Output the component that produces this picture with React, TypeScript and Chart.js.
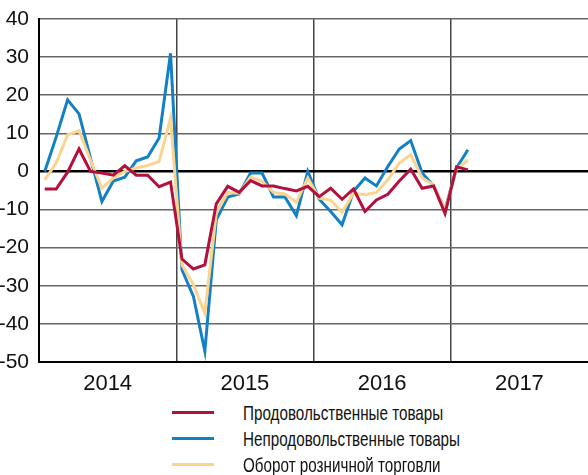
import React, { useEffect, useRef } from "react";
import { Chart, registerables } from "chart.js";

Chart.register(...registerables);

const years = ["2014", "2015", "2016", "2017"];
const seriesNames = [
  "Продовольственные товары",
  "Непродовольственные товары",
  "Оборот розничной торговли",
];
// monthly values, Jan 2014 onward
const food = [
  -4.6, -4.6, -0.2, 5.9, 0, -0.4, -1, 1.5, -1, -1, -4, -2.8,
  -23, -25.6, -24.5, -8.5, -3.9, -5.5, -2.4, -3.8, -3.8, -4.5, -5.1, -3.9,
  -6.6, -4.4, -7.3, -4.6, -10.5, -7.5, -6, -2.5, 0.6, -4.4, -3.8, -11, 1.2, 0.4,
];
const nonFood = [
  0, 9, 18.8, 15.1, 3.5, -7.9, -2.5, -1.5, 2.8, 3.8, 8.8, 31,
  -25.8, -32.8, -47.2, -12.7, -6.7, -5.9, -0.4, -0.4, -6.7, -6.7, -11.6, 0,
  -7.3, -10.5, -14, -5.2, -1.7, -3.8, 1.3, 5.9, 8.1, -0.4, -3.8, -10, 0.9, 5.7,
];
const retail = [
  -2.2, 2.2, 9.6, 10.7, 3, -4.4, -1.7, 0, 0.9, 1.6, 2.6, 14,
  -24.5, -29.7, -37.2, -10.9, -5.5, -5.7, -1.5, -2.6, -5.5, -5.9, -8.1, -1.7,
  -7, -7.5, -10.7, -5.7, -6.1, -5.5, -2.2, 2.2, 4.4, -1.7, -3.5, -10, 0.6, 3,
];
const colors = ["#b3103d", "#1380c6", "#fbd48f"];

const FONT = "'Liberation Sans Narrow', 'Liberation Sans', Arial, sans-serif";

export default function App() {
  const ref = useRef<HTMLCanvasElement | null>(null);

  useEffect(() => {
    if (!ref.current) return;
    const toPts = (arr: number[]) => arr.map((v, i) => ({ x: i + 0.5, y: v }));
    const chart = new Chart(ref.current, {
      type: "line",
      data: {
        datasets: [
          { label: seriesNames[0], data: toPts(food), borderColor: colors[0], order: 0 },
          { label: seriesNames[2], data: toPts(retail), borderColor: colors[2], order: 1 },
          { label: seriesNames[1], data: toPts(nonFood), borderColor: colors[1], order: 2 },
        ].map((d) => ({ ...d, borderWidth: 3, pointRadius: 0, tension: 0, fill: false })),
      },
      options: {
        animation: false,
        responsive: false,
        maintainAspectRatio: false,
        layout: { padding: { top: 19, right: 0, left: 0, bottom: 0 } },
        plugins: { legend: { display: false }, tooltip: { enabled: false } },
        scales: {
          x: {
            type: "linear",
            min: 0,
            max: 48,
            afterBuildTicks: (scale: any) => {
              const t = [];
              for (let v = 0; v <= 48; v += 6) t.push({ value: v });
              scale.ticks = t;
            },
            afterFit: (scale: any) => {
              scale.height = 33;
              scale.paddingLeft = 0;
              scale.paddingRight = 0;
            },
            ticks: {
              autoSkip: false,
              maxRotation: 0,
              padding: 9,
              color: "#111",
              font: { family: FONT, size: 22 },
              callback: (v: any) => (v % 12 === 6 ? years[(v - 6) / 12] : ""),
            },
            grid: {
              drawTicks: false,
              lineWidth: 1.5,
              color: (ctx: any) => {
                const v = ctx.tick ? ctx.tick.value : -1;
                return v % 12 === 0 && v > 0 && v < 48 ? "#444" : "rgba(0,0,0,0)";
              },
            },
            border: { display: true, color: "#000", width: 2 },
          },
          y: {
            min: -50,
            max: 40,
            afterFit: (scale: any) => {
              scale.width = 39;
              scale.paddingTop = 0;
              scale.paddingBottom = 0;
            },
            ticks: {
              stepSize: 10,
              padding: 10,
              color: "#111",
              font: { family: FONT, size: 21 },
            },
            grid: {
              drawTicks: false,
              color: (ctx: any) => (ctx.tick && ctx.tick.value === 0 ? "#000" : "#666"),
              lineWidth: (ctx: any) => (ctx.tick && ctx.tick.value === 0 ? 2.5 : 1.5),
            },
            border: { display: true, color: "#000", width: 2 },
          },
        },
      },
    });
    return () => chart.destroy();
  }, []);

  const legendRows = [0, 1, 2];
  return (
    <div style={{ position: "fixed", left: 0, top: 0, width: 588, height: 475, background: "#fff" }}>
      <canvas ref={ref} width={588} height={395} style={{ display: "block", width: 588, height: 395 }} />
      {legendRows.map((i) => (
        <React.Fragment key={i}>
          <div
            style={{
              position: "absolute",
              left: 172,
              top: 411 + i * 26,
              width: 42,
              height: 3,
              background: colors[i],
            }}
          />
          <div
            style={{
              position: "absolute",
              left: 243,
              top: 400 + i * 26,
              fontFamily: FONT,
              fontSize: 21,
              lineHeight: "26px",
              color: "#111",
              whiteSpace: "nowrap",
              transform: "scaleX(0.725)",
              transformOrigin: "0 50%",
            }}
          >
            {seriesNames[i]}
          </div>
        </React.Fragment>
      ))}
    </div>
  );
}
